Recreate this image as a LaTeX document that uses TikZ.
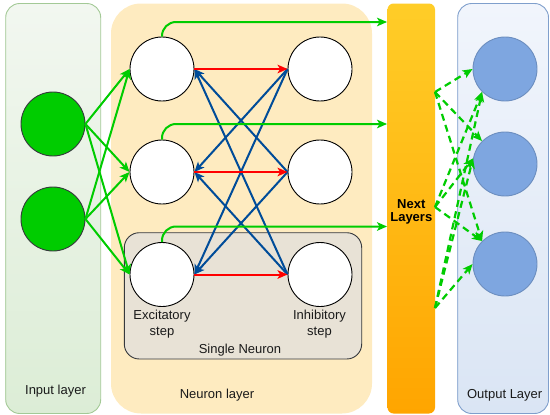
\documentclass[tikz,border=0pt]{standalone}
\usepackage{fontspec}
\setmainfont{Liberation Sans}
\usetikzlibrary{arrows.meta}
\definecolor{inTop}{HTML}{F2F7F0}
\definecolor{inBot}{HTML}{DCEDD6}
\definecolor{inBorder}{HTML}{A3C996}
\definecolor{neuFill}{HTML}{FEEBC0}
\definecolor{singleFill}{HTML}{E8E2D6}
\definecolor{singleBorder}{HTML}{36393D}
\definecolor{outTop}{HTML}{F1F5FC}
\definecolor{outBot}{HTML}{DAE5F4}
\definecolor{outBorder}{HTML}{7F9FCC}
\definecolor{outCircle}{HTML}{7EA6E0}
\definecolor{outCircleBorder}{HTML}{6C8EBF}
\definecolor{inCircle}{HTML}{00CC00}
\definecolor{barTop}{HTML}{FFCD28}
\definecolor{barBot}{HTML}{FFA500}
\definecolor{arrGreen}{HTML}{00CC00}
\definecolor{arrRed}{HTML}{FF0000}
\definecolor{arrBlue}{HTML}{004C99}
\definecolor{txt}{HTML}{1A1A1A}
\begin{document}
\begin{tikzpicture}[x=1pt,y=-1pt,
  font=\fontsize{13}{15.7}\selectfont,
  every node/.style={text=txt},
  layerbox/.style={rectangle,inner sep=0pt,line width=0.9pt},
  neuron/.style={circle,draw=black,fill=white,line width=0.9pt,minimum size=64pt,inner sep=0pt},
  inneuron/.style={circle,draw=singleBorder,fill=inCircle,line width=0.9pt,minimum size=64pt,inner sep=0pt},
  outneuron/.style={circle,draw=outCircleBorder,fill=outCircle,line width=0.9pt,minimum size=64pt,inner sep=0pt},
  tip/.style={-{Stealth[length=10pt,width=8.5pt,inset=2.5pt]}},
  garrow/.style={tip,draw=arrGreen,line width=2pt},
  rarrow/.style={tip,draw=arrRed,line width=2pt},
  barrow/.style={tip,draw=arrBlue,line width=2pt},
  darrow/.style={tip,draw=arrGreen,line width=2.2pt,dash pattern=on 7pt off 4.5pt},
  lbl/.style={inner sep=0pt,align=center}
]
\useasboundingbox (0,0) rectangle (550,415);

% layer boxes
\node[layerbox,draw=inBorder,top color=inTop,bottom color=inBot,rounded corners=14pt,
  minimum width=95pt,minimum height=410pt] (inlayer) at (53.2,208.5) {};
\node[layerbox,fill=neuFill,rounded corners=30pt,
  minimum width=261pt,minimum height=410pt] (neulayer) at (241.5,208.5) {};
\node[layerbox,draw=singleBorder,fill=singleFill,rounded corners=15pt,
  minimum width=237.4pt,minimum height=126.3pt] (single) at (243,295.85) {};
\node[layerbox,top color=barTop,bottom color=barBot,rounded corners=6pt,
  minimum width=47.5pt,minimum height=410pt] (nl) at (411.25,208.5) {};
\node[layerbox,draw=outBorder,top color=outTop,bottom color=outBot,rounded corners=14pt,
  minimum width=90.8pt,minimum height=410pt] (outlayer) at (503.1,208.5) {};

% neurons
\node[inneuron] (in1) at (53,124) {};
\node[inneuron] (in2) at (53,219) {};
\node[neuron] (e1) at (162,69) {};
\node[neuron] (e2) at (162,172) {};
\node[neuron] (e3) at (162,274.5) {};
\node[neuron] (i1) at (320,69) {};
\node[neuron] (i2) at (320,172) {};
\node[neuron] (i3) at (320,274.5) {};
\node[outneuron] (o1) at (505,69) {};
\node[outneuron] (o2) at (505,164) {};
\node[outneuron] (o3) at (505,264) {};

% labels
\node[lbl] (tin) at (55.5,391.5) {Input layer};
\node[lbl] (tneu) at (217,395.5) {Neuron layer};
\node[lbl] (tsingle) at (240,350.3) {Single Neuron};
\node[lbl] (texc) at (162,323.8) {Excitatory\\step};
\node[lbl] (tinh) at (319.5,323.8) {Inhibitory\\step};
\node[lbl,font=\fontsize{13}{13.5}\selectfont\bfseries,text=black] (tnl) at (411.3,211.7) {Next\\Layers};
\node[lbl] (tout) at (504.7,395) {Output Layer};

% helper coordinates
\coordinate (y1) at (0,22);
\coordinate (y2) at (0,124);
\coordinate (y3) at (0,226.5);
\coordinate (s1) at (435,92);
\coordinate (s2) at (435,207);
\coordinate (s3) at (435,308);

% input -> excitatory
\foreach \a in {in1,in2}{
  \foreach \b in {e1,e2,e3}{
    \draw[garrow] (\a.east) -- (\b.west);
  }
}

% inhibitory -> other excitatory (blue)
\draw[barrow] (i1.west) -- (e2.east);
\draw[barrow] (i1.west) -- (e3.east);
\draw[barrow] (i2.west) -- (e1.east);
\draw[barrow] (i2.west) -- (e3.east);
\draw[barrow] (i3.west) -- (e1.east);
\draw[barrow] (i3.west) -- (e2.east);

% excitatory -> inhibitory (red)
\draw[rarrow] (e1.east) -- (i1.west);
\draw[rarrow] (e2.east) -- (i2.west);
\draw[rarrow] (e3.east) -- (i3.west);

% excitatory -> next layers (green)
\draw[garrow,rounded corners=14pt] (e1.north) |- (nl.west |- y1);
\draw[garrow,rounded corners=14pt] (e2.north) |- (nl.west |- y2);
\draw[garrow,rounded corners=14pt] (e3.north) |- (nl.west |- y3);

% next layers -> output (dashed)
\draw[darrow] (s1) -- (o1.180);
\draw[darrow] (s1) -- (o2.135);
\draw[darrow] (s1) -- (o3.135);
\draw[darrow] (s2) -- (o1.225);
\draw[darrow] (s2) -- (o2.170);
\draw[darrow] (s2) -- (o3.135);
\draw[darrow] (s3) -- (o1.225);
\draw[darrow] (s3) -- (o2.170);
\draw[darrow] (s3) -- (o3.180);
\end{tikzpicture}
\end{document}
